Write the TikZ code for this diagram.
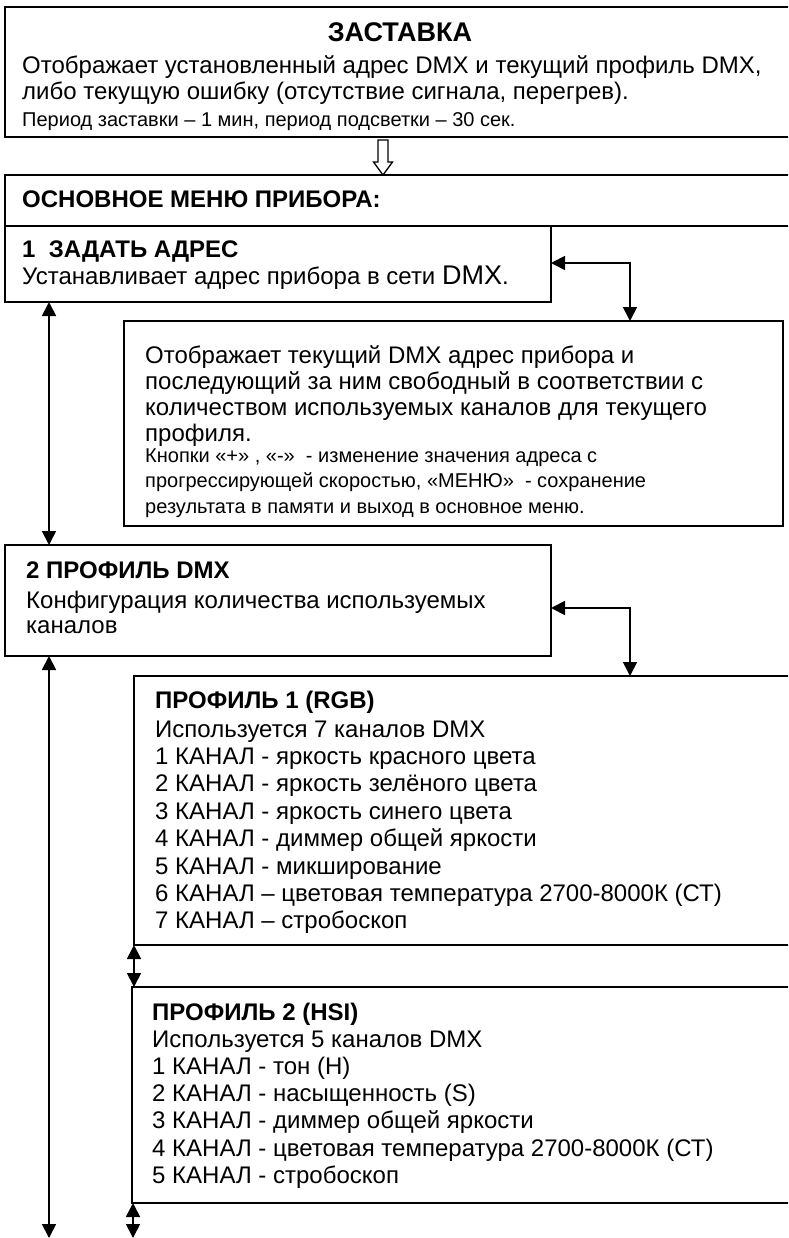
\documentclass[tikz,border=0pt]{standalone}
\usepackage{fontspec}
\setmainfont{Liberation Sans}
\usetikzlibrary{arrows.meta,calc}
\tikzset{
  box/.style={draw, line width=1.8pt, anchor=north west, inner sep=0pt, outer sep=0pt},
  txt/.style={anchor=base west, inner sep=0pt, font=\fontsize{24}{27}\selectfont},
  stxt/.style={anchor=base west, inner sep=0pt, font=\fontsize{20}{23}\selectfont},
  btxt/.style={anchor=base west, inner sep=0pt, font=\fontsize{24}{27}\selectfont\bfseries},
  conn/.style={line width=1.8pt, >={Triangle[length=14pt,width=14pt]}},
  hollow/.style={line width=1.3pt, fill=white, line join=miter},
}
\begin{document}
\begin{tikzpicture}[x=1pt,y=1pt]
\useasboundingbox (0,0) rectangle (788,-1238);
\fill[white] (0,0) rectangle (788,-1238);
\clip (0,0) rectangle (788,-1238);

% ---- ЗАСТАВКА
\node[box, minimum width=800pt, minimum height=130pt] (zast) at (5,-7) {};
\node[anchor=base, inner sep=0pt, font=\fontsize{27}{30}\selectfont\bfseries] (zastT) at (400,-42) {ЗАСТАВКА};
\node[txt] (zast1) at (22,-74) {Отображает установленный адрес DMX и текущий профиль DMX,};
\node[txt] (zast2) at (22,-100) {либо текущую ошибку (отсутствие сигнала, перегрев).};
\node[stxt] (zast3) at (22,-127) {Период заставки – 1 мин, период подсветки – 30 сек.};

% ---- main menu
\node[box, minimum width=800pt, minimum height=51pt] (menu) at (5,-175) {};
\node[btxt] (menuT) at (22,-208) {ОСНОВНОЕ МЕНЮ ПРИБОРА:};

% hollow arrow
\coordinate (ha) at (383,0);
\draw[hollow] (ha |- menu.north) -- ++(-9.5,13) -- ++(4.5,0) -- ++(0,22) -- ++(10,0) -- ++(0,-22) -- ++(4.5,0) -- cycle;

% ---- 1 address
\node[box, minimum width=546pt, minimum height=76pt] (addr) at (5,-226) {};
\node[btxt] (addrT) at (22,-258) {1\ \ ЗАДАТЬ АДРЕС};
\node[txt] (addrD) at (22,-285) {Устанавливает адрес прибора в сети {\fontsize{27}{30}\selectfont DMX}.};

% ---- address description
\node[box, minimum width=659pt, minimum height=205pt] (desc) at (124,-321) {};
\node[txt] (desc1) at (145,-363) {Отображает текущий DMX адрес прибора и};
\node[txt] (desc2) at (145,-389) {последующий за ним свободный в соответствии с};
\node[txt] (desc3) at (145,-415) {количеством используемых каналов для текущего};
\node[txt] (desc4) at (145,-441) {профиля.};
\node[stxt] (desc5) at (145,-462) {Кнопки «+» , «-»\ \ - изменение значения адреса с};
\node[stxt] (desc6) at (145,-487) {прогрессирующей скоростью, «МЕНЮ»\ \ - сохранение};
\node[stxt] (desc7) at (145,-513) {результата в памяти и выход в основное меню.};

% ---- 2 profile
\node[box, minimum width=546pt, minimum height=111pt] (prof) at (5,-545) {};
\node[btxt] (profT) at (26,-578) {2 ПРОФИЛЬ DMX};
\node[txt] (prof1) at (26,-608) {Конфигурация количества используемых};
\node[txt] (prof2) at (26,-633) {каналов};

% ---- profile 1
\node[box, minimum width=700pt, minimum height=269pt] (pa) at (134,-676) {};
\node[btxt] (paT) at (155,-708) {ПРОФИЛЬ 1 (RGB)};
\foreach \t [count=\i from 0] in {
  Используется 7 каналов DMX,
  1 КАНАЛ - яркость красного цвета,
  2 КАНАЛ - яркость зелёного цвета,
  3 КАНАЛ - яркость синего цвета,
  4 КАНАЛ - диммер общей яркости,
  5 КАНАЛ - микширование,
  6 КАНАЛ – цветовая температура 2700-8000К (СТ),
  7 КАНАЛ – стробоскоп}
  \node[txt] (pa\i) at (155,{-737-27.4*\i}) {\t};

% ---- profile 2
\node[box, minimum width=700pt, minimum height=216pt] (pb) at (132,-987) {};
\node[btxt] (pbT) at (152,-1020) {ПРОФИЛЬ 2 (HSI)};
\foreach \t [count=\i from 0] in {
  Используется 5 каналов DMX,
  1 КАНАЛ - тон (H),
  2 КАНАЛ - насыщенность (S),
  3 КАНАЛ - диммер общей яркости,
  4 КАНАЛ - цветовая температура 2700-8000К (СТ),
  5 КАНАЛ - стробоскоп}
  \node[txt] (pb\i) at (152,{-1047-27.3*\i}) {\t};

% ---- connectors
\coordinate (lx) at (49,0);
\coordinate (e1) at (630,-263);
\coordinate (e2) at (630,-608);
\coordinate (sx) at (134,0);
\coordinate (bot1) at (49,-1238);
\coordinate (bot2) at (133,-1238);

\draw[conn,<->] (addr.east |- e1) -- (e1) -- (e1 |- desc.north);
\draw[conn,<->] (prof.east |- e2) -- (e2) -- (e2 |- pa.north);
\draw[conn,<->] (lx |- addr.south) -- (lx |- prof.north);
\draw[conn,<->] (lx |- prof.south) -- (bot1);
\draw[conn,<->] (sx |- pa.south) -- (sx |- pb.north);
\draw[conn,<->] (bot2 |- pb.south) -- (bot2);
\end{tikzpicture}
\end{document}
